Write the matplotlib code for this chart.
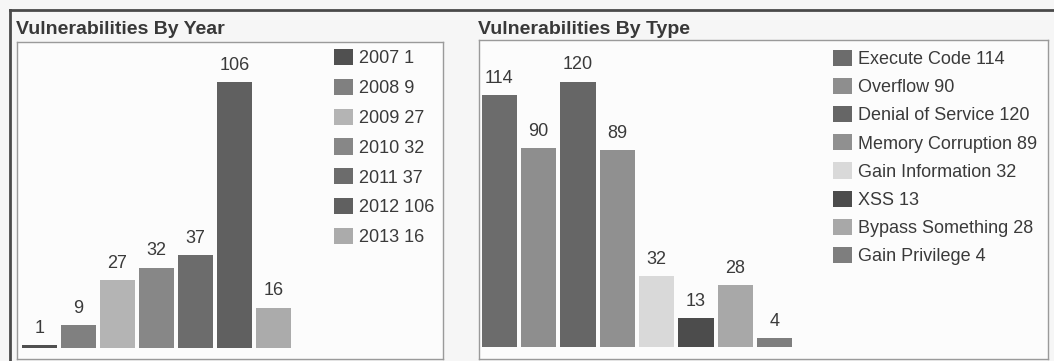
import matplotlib
matplotlib.use("Agg")
import matplotlib.pyplot as plt
from matplotlib.lines import Line2D

plt.rcParams['font.family'] = ['Liberation Sans', 'DejaVu Sans']

# data
years = ['2007', '2008', '2009', '2010', '2011', '2012', '2013']
year_counts = [1, 9, 27, 32, 37, 106, 16]
year_colors = ['#505050', '#808080', '#b4b4b4', '#878787', '#6c6c6c', '#606060', '#ababab']

types = ['Execute Code', 'Overflow', 'Denial of Service', 'Memory Corruption',
         'Gain Information', 'XSS', 'Bypass Something', 'Gain Privilege']
type_counts = [114, 90, 120, 89, 32, 13, 28, 4]
type_colors = ['#6c6c6c', '#8e8e8e', '#666666', '#909090', '#d9d9d9', '#4c4c4c', '#a8a8a8', '#7e7e7e']

W, H = 1054, 361
TXT = '#3a3a3a'


def box(x0, y0, x1, y1):
    # pixel box (top-left origin) -> figure fraction rect
    return [x0 / W, 1 - y1 / H, (x1 - x0) / W, (y1 - y0) / H]


fig = plt.figure(figsize=(W / 100, H / 100), dpi=100, facecolor='#f6f6f6')

# outer frame lines of the scanned page
fig.add_artist(Line2D([10 / W, 1], [1 - 10 / H, 1 - 10 / H], transform=fig.transFigure,
                      color='#4a4a4a', lw=2))
fig.add_artist(Line2D([10 / W, 10 / W], [0, 1 - 10 / H], transform=fig.transFigure,
                      color='#4a4a4a', lw=2))

fig.text(16 / W, 1 - 34 / H, 'Vulnerabilities By Year', fontsize=14, fontweight='bold',
         color='#383838', va='baseline')
fig.text(478 / W, 1 - 34 / H, 'Vulnerabilities By Type', fontsize=14, fontweight='bold',
         color='#383838', va='baseline')


def panel(rect, labels, values, colors, leg_labels, xlim, ylim, leg_xy, leg_space):
    ax = fig.add_axes(rect, facecolor='#fcfcfc')
    x = range(len(values))
    bars = ax.bar(x, values, width=0.9, color=colors, label=labels)
    ax.bar_label(bars, padding=6, fontsize=13, color=TXT)
    ax.set_xlim(*xlim)
    ax.set_ylim(*ylim)
    ax.set_xticks([])
    ax.set_yticks([])
    for s in ax.spines.values():
        s.set_color('#9a9a9a')
        s.set_linewidth(1)
    leg = ax.legend(bars, leg_labels, loc='upper left', bbox_to_anchor=leg_xy,
                    bbox_transform=fig.transFigure, frameon=False, fontsize=13,
                    borderpad=0, borderaxespad=0, handlelength=1.05, handleheight=1.0,
                    handletextpad=0.35, labelspacing=leg_space)
    for t in leg.get_texts():
        t.set_color(TXT)
    return ax


panel(box(17, 42, 443, 359), years, year_counts, year_colors,
      [f'{y} {v}' for y, v in zip(years, year_counts)],
      (-0.577, 10.35), (-4.4, 121.9), (334 / W, 1 - 49 / H), 0.64)

panel(box(479, 40, 1048, 359), types, type_counts, type_colors,
      [f'{t} {v}' for t, v in zip(types, type_counts)],
      (-0.52, 13.96), (-5.4, 138.9), (833 / W, 1 - 50 / H), 0.545)

fig.savefig('out.png', dpi=100, facecolor=fig.get_facecolor())
